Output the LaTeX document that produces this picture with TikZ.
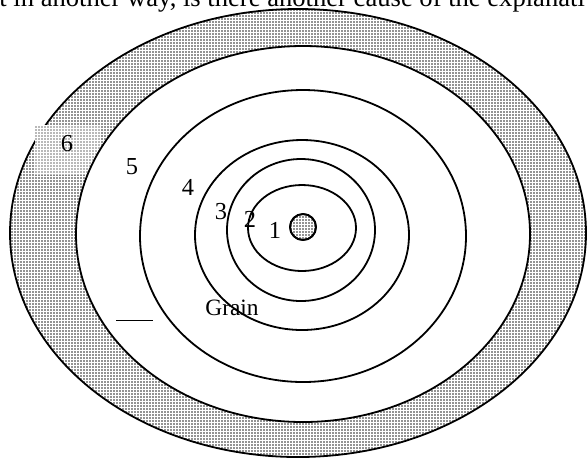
\documentclass[tikz,border=0pt]{standalone}
\usepackage{fontspec}
\setmainfont{Liberation Serif}
\usepackage{tikz}
\usetikzlibrary{patterns.meta, positioning}
\tikzset{ring/.style={draw=black,line width=0.9pt}}
\tikzset{dotfill/.style={pattern={Dots[distance=1.5pt,radius=0.44pt]},pattern color=black!85}}
\tikzset{lab/.style={inner sep=0pt,font=\fontsize{12.2}{14}\selectfont}}

\begin{document}
\begin{tikzpicture}[x=0.5pt,y=-0.5pt]
\useasboundingbox (0,0) rectangle (587,457);
\clip (0,0) rectangle (587,457);
\fill[white] (0,0) rectangle (587,457);
% line of text cut by the top edge
\node [anchor=base west,inner sep=0pt,font=\fontsize{13.3}{16}\selectfont] at (-1,6) (txt)
	{t in another way, is there another cause of the explanati};

% shaded outer band
\fill [white] (298,233) ellipse [x radius=144pt, y radius=112pt];
\path [ring,dotfill] (298,233) ellipse [x radius=144pt, y radius=112pt];
\fill [white] (35,125) rectangle (100,175);
\fill [pattern={Dots[distance=1.5pt,radius=0.44pt]},pattern color=black!55] (35,125) rectangle (100,175);
\path [ring,fill=white] (303,234) ellipse [x radius=113.5pt, y radius=94pt];

% growth rings
\draw [ring] (303,236) ellipse [x radius=81.5pt, y radius=73pt];
\draw [ring] (302,235) ellipse [x radius=53.5pt, y radius=47.5pt];
\draw [ring] (301,230) ellipse [x radius=37pt, y radius=35.5pt];
\draw [ring] (302,228) ellipse [x radius=27pt, y radius=21.5pt];
\path [ring,fill=white] (303,227) circle [radius=6.5pt];
\path [ring,dotfill] (303,227) circle [radius=6.5pt];

% labels
\node [lab] at (67,144) (l6) {6};
\node [lab] at (132,167) (l5) {5};
\node [lab] at (188,187) (l4) {4};
\node [lab] at (221,212) (l3) {3};
\node [lab] at (250,219) (l2) {2};
\node [lab] at (275,230) (l1) {1};
\node [lab,font=\fontsize{11.7}{14}\selectfont] at (232,308) (grain) {Grain};
\coordinate (m1) at (116,320);
\coordinate (m2) at (153,320);
\draw [line width=0.5pt] (m1) -- (m2);
\end{tikzpicture}
\end{document}
